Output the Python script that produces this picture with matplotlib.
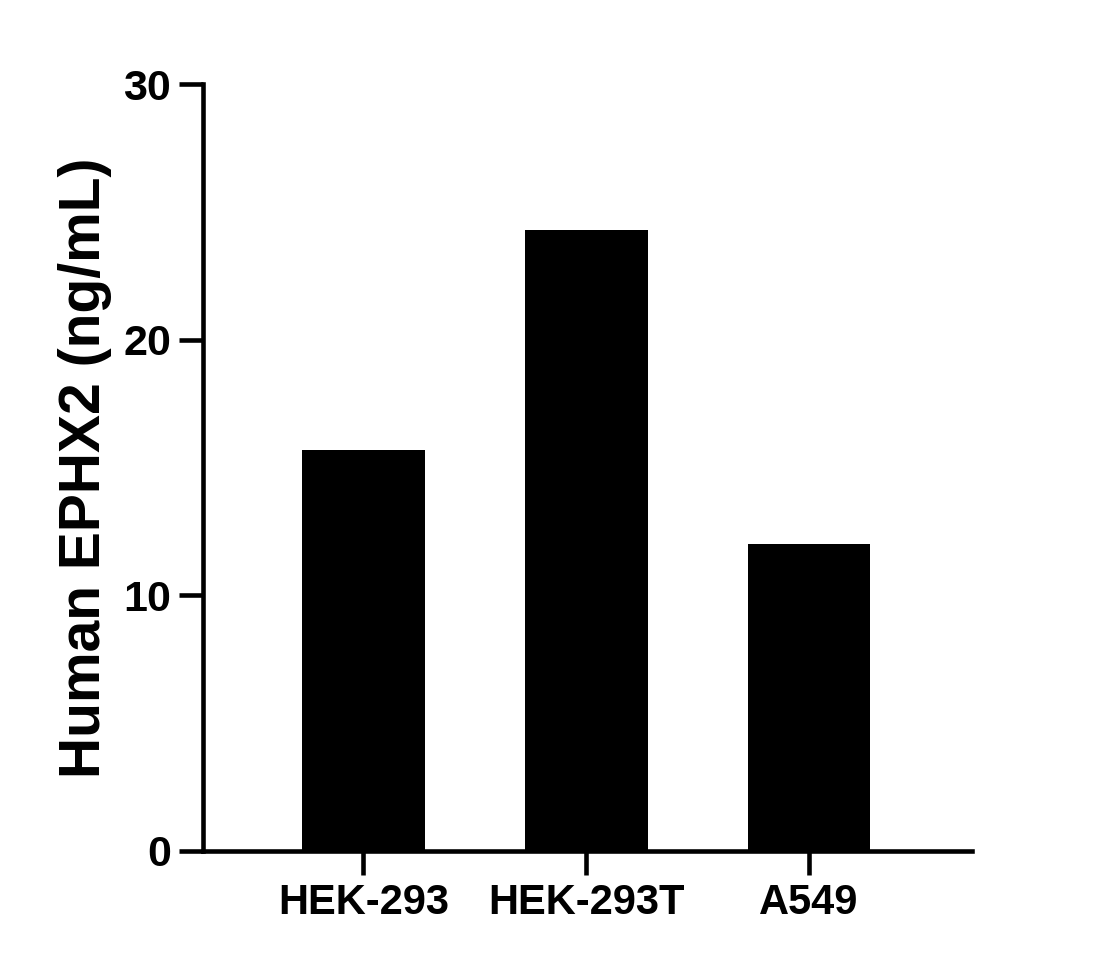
import matplotlib
matplotlib.use("Agg")
import matplotlib.pyplot as plt

categories = ["HEK-293", "HEK-293T", "A549"]
values = [15.7, 24.3, 12.0]
yticks = [0, 10, 20, 30]

plt.rcParams['font.family'] = ['Liberation Sans', 'DejaVu Sans']
plt.rcParams['font.weight'] = 'bold'

fig = plt.figure(figsize=(11.08, 9.67), dpi=100)
ax = fig.add_axes([0.1832, 0.12, 0.877 - 0.1832, 0.913 - 0.12])

x = range(len(categories))
ax.bar(x, values, width=0.55, color='black')

ax.set_xlim(-0.72, 2.73)
ax.set_ylim(0, 30)
ax.set_yticks(yticks)
ax.set_xticks(list(x))
ax.set_xticklabels(categories, fontsize=30, fontweight='bold')
ax.set_yticklabels([str(t) for t in yticks], fontsize=31, fontweight='bold')
ax.set_ylabel("Human EPHX2 (ng/mL)", fontsize=41, fontweight='bold', labelpad=8)

for s in ['top', 'right']:
    ax.spines[s].set_visible(False)
for s in ['left', 'bottom']:
    ax.spines[s].set_linewidth(3.3)
ax.tick_params(width=3.3, length=17, direction='out', pad=6)

fig.savefig("out.png", dpi=100)
